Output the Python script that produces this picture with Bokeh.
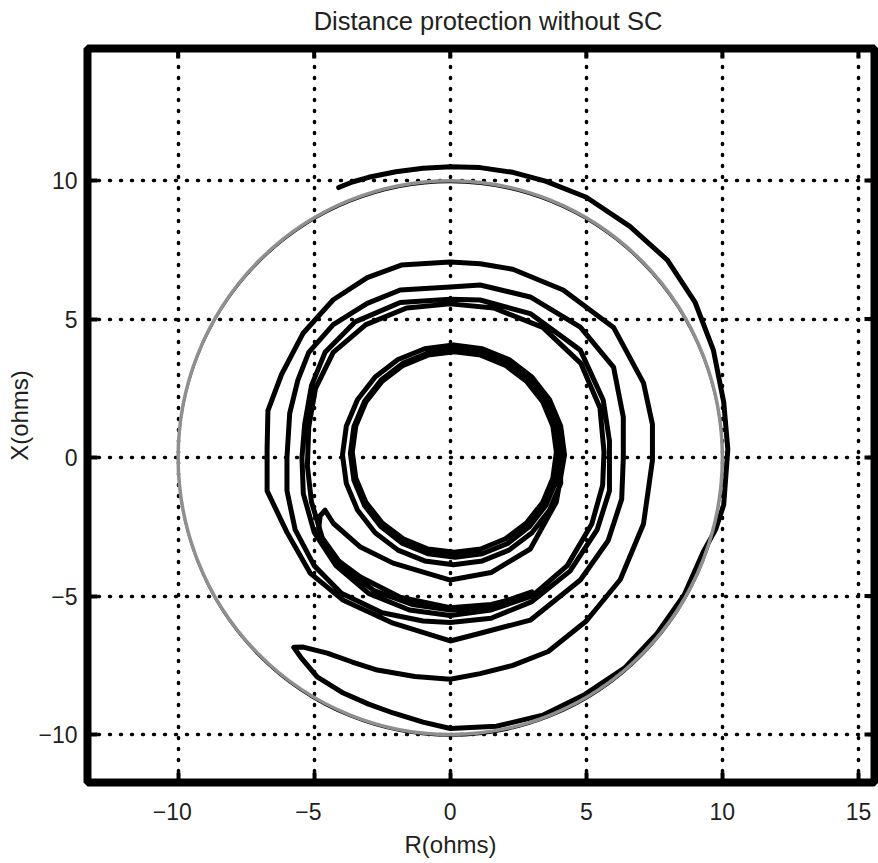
from bokeh.plotting import figure
from bokeh.models import Range1d, FixedTicker, Label, Title
from bokeh.layouts import column
from bokeh.embed import file_html
from bokeh.resources import INLINE

# ---------------- data ----------------
title_text = "Distance protection without SC"
x_label = "R(ohms)"
y_label = "X(ohms)"
x_ticks = [-10, -5, 0, 5, 10, 15]
x_tick_labels = ["\u221210\u2002", "\u22125\u2002", "0", "5", "10", "15"]
y_ticks = [-10, -5, 0, 5, 10]
y_tick_labels = ["\u221210", "\u22125", "0", "5", "10"]

# mho relay characteristic (centre R, centre X, radius)
mho_r = [0.0]
mho_x = [0.0]
mho_radius = [10.0]

# impedance trajectory, outer part (R, X in ohms)
swing1_r = [-4.10, -3.60, -3.00, -2.00, -1.00, 0.00, 1.10, 2.30, 3.50, 5.00, 6.60, 7.98, 9.00, 9.67, 10.05, 10.20,
            10.05, 9.75, 9.30, 8.60, 7.60, 6.40, 4.95, 3.40, 1.70, 0.00, -1.00, -2.10, -3.00, -3.93, -4.89, -5.50, -5.75,
            -5.40, -4.52, -3.60, -2.68, -1.30, 0.00,
            1.10, 2.30, 3.60, 5.00, 6.25, 7.10, 7.43, 7.43, 7.10, 6.00, 4.15, 2.30, 1.10, 0.00, -1.80, -3.05, -4.30,
            -5.40, -6.20, -6.70, -6.73, -6.73, -6.00, -5.15, -3.93, -2.10, 0.00,
            1.10, 2.94, 4.78, 5.80, 6.30, 6.36, 6.36, 6.00, 4.78, 2.94, 1.10, 0.00, -1.84, -3.05, -4.30, -5.20, -5.60,
            -5.90, -6.00, -6.00, -5.70, -5.00, -4.00, -2.50, -1.00, 0.00,
            1.50, 3.00, 4.40, 5.40, 5.85, 5.85, 5.62, 4.78, 2.94, 1.10, 0.00, -1.84, -3.50, -4.60, -5.10, -5.35, -5.45,
            -5.40, -5.00, -4.20, -3.00, -1.50, 0.00,
            1.50, 3.00, 4.30, 5.20, 5.60, 5.65, 5.50, 4.80, 3.40, 1.60, 0.00, -1.60, -3.10, -4.30, -4.95, -5.20, -5.25,
            -5.10, -4.70, -3.90, -2.80, -1.40, 0.00, 1.50, 3.00]
swing1_x = [9.75, 9.95, 10.12, 10.32, 10.45, 10.50, 10.47, 10.30, 9.98, 9.40, 8.35, 7.13, 5.60, 3.88, 2.00, 0.30,
            -1.70, -2.60, -3.40, -4.95, -6.35, -7.60, -8.55, -9.30, -9.70, -9.78, -9.55, -9.22, -8.90, -8.50, -7.92, -7.20, -6.85,
            -6.84, -7.06, -7.38, -7.67, -7.90, -8.00,
            -7.80, -7.50, -7.00, -5.90, -4.40, -2.40, -0.10, 1.20, 2.70, 4.70, 6.05, 6.80, 7.00, 7.06, 6.95, 6.50, 5.70,
            4.50, 3.00, 1.70, 0.30, -1.20, -2.70, -4.17, -5.15, -5.98, -6.62,
            -6.34, -5.87, -4.42, -3.00, -1.50, 0.00, 1.46, 3.27, 4.71, 5.80, 6.23, 6.16, 6.05, 5.57, 4.80, 3.80, 2.80,
            1.60, 0.00, -1.20, -2.60, -3.90, -4.90, -5.60, -5.90, -5.95,
            -5.80, -5.20, -4.10, -2.60, -1.20, 0.60, 2.08, 3.88, 5.20, 5.69, 5.72, 5.60, 4.90, 3.80, 2.60, 1.20, 0.00,
            -1.30, -2.70, -3.90, -4.90, -5.50, -5.70,
            -5.50, -5.00, -3.90, -2.40, -1.00, 0.20, 1.80, 3.40, 4.70, 5.40, 5.55, 5.40, 4.80, 3.80, 2.50, 1.10, -0.30,
            -1.60, -2.90, -4.00, -4.80, -5.30, -5.50, -5.35, -4.85]

# impedance trajectory, inner part (hook and settling loops)
swing2_r = [3.00, 1.50, 0.00, -1.84, -3.30, -4.30, -4.85, -4.78, -4.60, -4.30, -3.30, -2.10, 0.00, 1.50, 2.94, 3.90,
            4.20, 4.06, 3.65, 3.00, 2.16, 1.18, 0.12, -0.94, -1.92, -2.76, -3.41, -3.82, -3.96, -3.82, -3.41, -2.76,
            -1.92, -0.94, 0.12, 1.18, 2.16, 3.00, 3.65, 4.06,
            4.03, 3.90, 3.51, 2.90, 2.11, 1.18, 0.18, -0.82, -1.75, -2.54, -3.15, -3.54, -3.67, -3.54, -3.15, -2.54,
            -1.75, -0.82, 0.18, 1.18, 2.11, 2.90, 3.51, 3.90,
            3.90, 3.77, 3.40, 2.80, 2.03, 1.12, 0.15, -0.82, -1.73, -2.50, -3.10, -3.47, -3.60, -3.47, -3.10, -2.50,
            -1.73, -0.82, 0.15, 1.12, 2.03, 2.80, 3.40, 3.77, 3.90, 3.77]
swing2_x = [-4.95, -5.30, -5.42, -5.04, -4.31, -3.59, -2.70, -2.10, -1.90, -2.37, -3.23, -3.81, -4.42, -4.15, -3.30, -1.60,
            0.10, 1.13, 2.09, 2.91, 3.54, 3.93, 4.07, 3.93, 3.54, 2.91, 2.09, 1.13, 0.10, -0.93, -1.89, -2.71,
            -3.34, -3.73, -3.87, -3.73, -3.34, -2.71, -1.89, -0.93,
            0.15, 1.12, 2.03, 2.80, 3.40, 3.77, 3.90, 3.77, 3.40, 2.80, 2.03, 1.12, 0.15, -0.82, -1.73, -2.50,
            -3.10, -3.47, -3.60, -3.47, -3.10, -2.50, -1.73, -0.82,
            0.20, 1.14, 2.01, 2.76, 3.33, 3.70, 3.82, 3.70, 3.33, 2.76, 2.01, 1.14, 0.20, -0.74, -1.61, -2.36,
            -2.93, -3.30, -3.42, -3.30, -2.93, -2.36, -1.61, -0.74, 0.20, 1.14]

# ---------------- styling ----------------
FONT = "Liberation Sans"
TXT = "#231F20"
W = 878
TITLE_H = 40

xr = Range1d(-13.33, 15.59)
yr = Range1d(-11.73, 14.77)

# ---------------- title strip (frame is aligned with the main plot's frame) ----------------
tf = figure(width=W, height=TITLE_H, x_range=xr, y_range=Range1d(0, TITLE_H),
            output_backend="svg", toolbar_location=None, min_border=0,
            x_axis_location=None, y_axis_location=None)
tf.grid.visible = False
tf.outline_line_color = None
tf.background_fill_color = "white"
tf.border_fill_color = "white"
tf.add_layout(Label(x=(xr.start + xr.end) / 2, y=TITLE_H - 20, x_offset=7,
                    text=title_text, text_align="center", text_baseline="middle",
                    text_font=FONT, text_font_size="25.5px", text_color=TXT))

# ---------------- main plot ----------------
p = figure(frame_width=787, frame_height=734, x_range=xr, y_range=yr,
           output_backend="svg", toolbar_location=None,
           min_border_left=87, min_border_right=4, min_border_top=8, min_border_bottom=81,
           y_axis_label=y_label)

p.background_fill_color = "white"
p.border_fill_color = "white"
p.outline_line_color = "black"
p.outline_line_width = 8

for ax, ticks, labels in ((p.xaxis[0], x_ticks, x_tick_labels), (p.yaxis[0], y_ticks, y_tick_labels)):
    ax.ticker = FixedTicker(ticks=ticks)
    ax.major_label_overrides = dict(zip(ticks, labels))
    ax.minor_tick_line_color = None
    ax.major_tick_in = 10
    ax.major_tick_out = 0
    ax.major_tick_line_width = 4
    ax.major_tick_line_color = "black"
    ax.axis_line_color = None
    ax.major_label_text_font = FONT
    ax.major_label_text_font_size = "23px"
    ax.major_label_text_color = TXT
    ax.axis_label_text_font = FONT
    ax.axis_label_text_font_size = "24px"
    ax.axis_label_text_font_style = "normal"
    ax.axis_label_text_color = TXT

p.xaxis.major_label_standoff = 16
p.yaxis.major_label_standoff = 10
p.yaxis.axis_label_standoff = 2

# x axis label, centred under R = 0 as in the original
p.add_layout(Title(text=x_label, align="left", offset=317, standoff=2,
                   text_font=FONT, text_font_size="24px", text_font_style="normal",
                   text_color=TXT), "below")

for g, ticks in ((p.xgrid[0], x_ticks), (p.ygrid[0], y_ticks)):
    g.ticker = FixedTicker(ticks=ticks)
    g.grid_line_color = "black"
    g.grid_line_width = 3.5
    g.grid_line_dash = "1 10"
    g.grid_line_cap = "round"
    g.grid_line_alpha = 1.0

# box tick marks on the top and right edges (half of each dash lies inside the frame)
p.scatter(x=x_ticks, y=[yr.end] * len(x_ticks), marker="dash", angle=1.5708, size=20,
          line_color="black", line_width=4)
p.scatter(x=[xr.end] * len(y_ticks), y=y_ticks, marker="dash", size=20,
          line_color="black", line_width=4)

# mho circle (thin dark edge under a grey line)
p.ellipse(x=mho_r, y=[v - 0.05 for v in mho_x], width=[2 * r for r in mho_radius],
          height=[2 * r for r in mho_radius], fill_color=None, line_color="black", line_width=2)

# trajectory
p.line(swing1_r, swing1_x, line_color="black", line_width=5, line_join="round", line_cap="round")
p.line(swing2_r, swing2_x, line_color="black", line_width=5, line_join="round", line_cap="round")

p.ellipse(x=mho_r, y=mho_x, width=[2 * r for r in mho_radius],
          height=[2 * r for r in mho_radius], fill_color=None, line_color="#8f8f8f", line_width=3.5)

layout = column(tf, p, spacing=0)
open("out.html", "w").write(file_html(layout, INLINE))
